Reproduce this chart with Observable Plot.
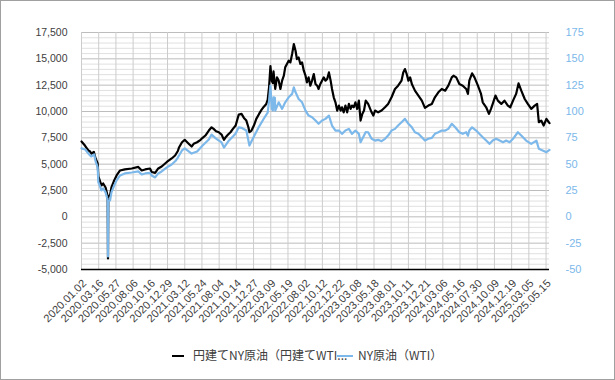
<!DOCTYPE html>
<html>
<head>
<meta charset="utf-8">
<script src="https://cdn.jsdelivr.net/npm/d3@7"></script>
<script src="https://cdn.jsdelivr.net/npm/@observablehq/plot@0.6"></script>
<style>
  html, body { margin: 0; padding: 0; background: #fff; }
  #wrap { position: relative; width: 615px; height: 380px; border: 1px solid #a0a0a0; box-sizing: border-box; background: #fff; overflow: hidden; }
  #chart { position: absolute; left: 0; top: 0; }
  .leg { position: absolute; font-family: "Noto Sans CJK JP", "Liberation Sans", sans-serif; font-size: 12px; color: #404040; white-space: nowrap; line-height: 14px; }
  .sw { position: absolute; height: 2px; }
</style>
</head>
<body>
<div id="wrap">
  <div id="chart"></div>
  <div class="leg" style="left:192px; top:347px;">円建てNY原油（円建てWTI...</div>
  <div class="sw" style="left:171px; top:354px; width:12px; background:#000;"></div>
  <div class="sw" style="left:336px; top:354px; width:16px; background:#7cb8ea;"></div>
  <div class="leg" style="left:357px; top:347px;">NY原油（WTI）</div>
</div>
<script>
// x-axis category labels (every 50 trading days)
const xLabels = ["2020.01.02","2020.03.16","2020.05.27","2020.08.06","2020.10.16","2020.12.29","2021.03.12","2021.05.24","2021.08.04","2021.10.14","2021.12.27","2022.03.09","2022.05.19","2022.08.02","2022.10.12","2022.12.22","2023.03.08","2023.05.18","2023.08.01","2023.10.11","2023.12.21","2024.03.06","2024.05.16","2024.07.30","2024.10.09","2024.12.19","2025.03.05","2025.05.15"];

// 円建てNY原油 (left axis, yen) : trading-day index and value
const jpyIdx = [0,10,14,20,25,29,36,41,47,49,54,58,63,70,74,76,77,78,83,87,95,102,112,126,146,165,175,185,199,204,214,223,233,248,262,272,280,283,292,300,310,320,326,336,346,352,360,370,378,384,391,399,407,414,419,426,433,440,448,457,465,472,479,485,488,494,501,508,516,523,530,537,541,545,549,553,556,558,561,563,568,573,578,583,588,592,597,602,607,612,617,622,626,631,636,641,646,651,655,660,665,670,675,680,685,689,694,699,704,709,714,719,724,728,733,738,743,748,753,757,762,767,772,777,782,786,791,796,801,806,811,816,821,826,833,843,848,853,862,872,882,891,901,911,920,930,935,940,945,950,955,960,969,979,989,998,1008,1018,1027,1037,1047,1057,1066,1076,1081,1089,1098,1108,1118,1123,1127,1135,1142,1152,1161,1166,1176,1184,1190,1195,1203,1210,1220,1229,1239,1246,1254,1263,1270,1278,1288,1297,1307,1317,1324,1329,1336,1343,1351,1358,1360];
const jpyVal = [7150,6770,6580,6300,6200,6010,6160,5540,5070,3840,3360,2980,3170,2790,2230,1940,-3950,1950,2040,2790,3460,3930,4400,4500,4590,4740,4400,4500,4590,4260,4170,4590,4780,5210,5540,5820,6250,6550,7080,7310,6990,6680,6930,7080,7310,7500,7720,8190,8500,8350,8130,8030,7810,7310,7560,7810,8030,8350,8670,9710,9770,9390,9140,8500,8030,8190,8670,9300,9770,10150,10460,10720,11100,12300,14300,12900,12700,13800,12800,12150,13240,12930,12140,12930,13400,14190,14510,14820,14660,15460,16400,15770,14980,15130,14510,14660,13870,13400,12770,13240,12450,12930,13560,12610,12450,12140,12610,12930,13240,12930,13090,13710,12930,12140,11350,10870,10090,10560,10090,10400,9920,10560,9920,10720,10250,10560,10400,10870,10250,11030,9140,9770,10090,11030,10720,9920,9610,10090,9920,10090,10400,10720,11350,12140,12450,12930,13710,14030,13560,12930,13240,12610,11980,11510,11030,10340,10560,10720,11350,11820,12140,11980,12450,13240,13400,13240,12610,12450,12140,11670,12930,13620,13240,12450,11670,10870,10400,9770,10250,10720,11510,11030,10720,11030,10560,10400,11030,11670,12670,11980,11190,10720,10250,10560,10720,8980,9140,8670,9300,8980,8900];

// NY原油 WTI (right axis, USD)
const wtiIdx = [0,11,20,28,37,41,47,49,54,58,63,70,74,76,77,78,83,87,95,102,112,126,146,165,175,185,199,204,214,223,233,248,262,273,280,292,300,320,336,352,370,378,391,407,414,426,440,448,457,465,479,488,501,516,530,541,545,549,553,556,558,562,563,573,583,592,602,612,617,622,631,641,651,660,670,680,689,699,709,719,728,738,748,757,767,777,786,796,806,811,821,826,833,843,853,862,872,882,891,901,911,920,930,940,950,960,969,979,989,998,1008,1018,1027,1037,1047,1057,1066,1076,1086,1098,1108,1118,1123,1127,1135,1147,1156,1166,1176,1186,1195,1205,1215,1225,1234,1244,1254,1268,1278,1292,1307,1322,1329,1340,1351,1360];
const wtiVal = [65,63.9,60.1,57.3,59.2,52.6,46.9,32.7,28.9,25.1,27,23.2,18.5,17,-37.6,15,15.6,23.2,29.8,34.6,39.3,41.2,42.1,43.1,40.2,41.2,41.7,39.3,37.4,41.2,43.1,46.9,49.7,53,56.3,63,64.9,60.1,62,67.7,73.4,78.1,74.3,70.6,65.8,71.5,76.2,79.1,85,84.5,81.9,67.7,76.2,85.7,93.3,99,110,124.5,102.5,101,113.5,113,100.9,108.7,102.5,108.7,113.5,116.7,122.9,118.2,111.9,108.7,100.9,96.1,94.5,91.4,88.3,91.4,93,96.1,86.7,81.9,81.9,78.8,81.9,83.5,78.8,81.9,78.8,70.8,77.2,80.5,80.3,74.1,72.4,73.1,71.8,74.1,77.2,81.9,83.5,86.7,89.8,93,88.3,85,80.3,78.8,75.6,72.4,74.1,75,78.8,80.3,81.9,81.9,83.5,88.3,85,80.3,78.8,80.3,77,81.9,85,81.9,78.8,75.6,72.4,69.3,72.4,74.1,72.4,70.8,72.4,70.8,74.1,80.3,77.2,72.4,69.3,72.4,64.6,63,61.4,63.6];

const majorTicks = d3.range(-5000, 17501, 2500);
const minorTicks = d3.range(-5000, 17501, 500).filter(v => v % 2500 !== 0);
const xTicks = d3.range(0, xLabels.length * 50, 50);

const jpy = jpyIdx.map((i, k) => ({i, v: jpyVal[k]}));
const wti = wtiIdx.map((i, k) => ({i, v: wtiVal[k]}));

const BLUE = "#7cb8ea";

const chart = Plot.plot({
  width: 613,
  height: 340,
  marginLeft: 80,
  marginRight: 65,
  marginTop: 31,
  marginBottom: 72,
  x: {domain: [0, 1360]},
  y: {domain: [-5000, 17500]},
  style: {fontFamily: "'Liberation Sans', Arial, sans-serif", fontSize: "11px", color: "#404040", background: "#fff", overflow: "visible"},
  marks: [
    Plot.gridY(minorTicks, {stroke: "#e0e0e0", strokeOpacity: 1}),
    Plot.gridY(majorTicks, {stroke: "#bdbdbd", strokeOpacity: 1}),
    Plot.gridX(xTicks, {stroke: "#cccccc", strokeOpacity: 1}),
    Plot.axisY(majorTicks, {anchor: "left", tickSize: 0, tickPadding: 14, label: null, fontSize: 10.5, tickFormat: d => d.toLocaleString("en-US")}),
    Plot.axisY(majorTicks, {anchor: "right", tickSize: 0, tickPadding: 16, label: null, fontSize: 11, fill: BLUE, tickFormat: d => String(d / 100)}),
    Plot.axisX(xTicks, {tickSize: 0, tickPadding: 12, dx: 3, tickRotate: -45, label: null, fontSize: 11, tickFormat: i => xLabels[i / 50]}),
    Plot.ruleY([-5000], {stroke: "#000", strokeWidth: 1.5}),
    Plot.line(jpy, {x: "i", y: "v", stroke: "#000", strokeWidth: 2.2}),
    Plot.line(wti, {x: "i", y: d => d.v * 100, stroke: BLUE, strokeWidth: 2.2})
  ]
});
document.getElementById("chart").appendChild(chart);
</script>
</body>
</html>
